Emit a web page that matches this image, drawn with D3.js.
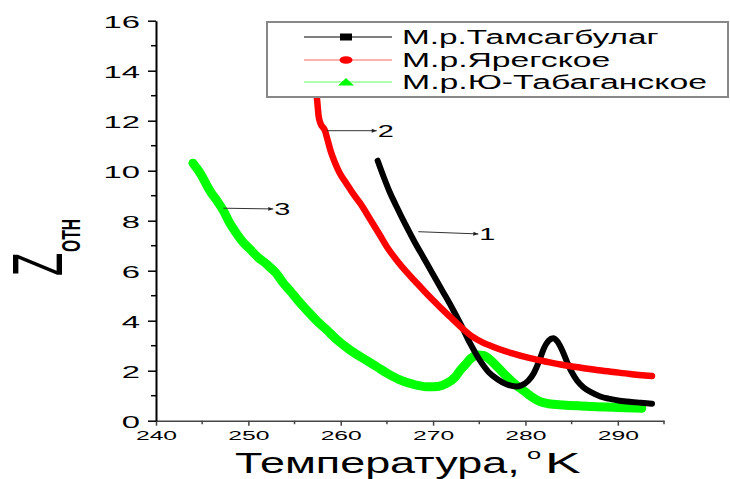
<!DOCTYPE html>
<html><head><meta charset="utf-8">
<script src="https://cdn.jsdelivr.net/npm/d3@7"></script>
<style>body{margin:0;background:#fff}svg{display:block}text{font-family:Arial,"Liberation Sans",sans-serif;fill:#000}</style>
</head><body><svg id="c" width="730" height="479"></svg>
<script>
// ---- data ----
const seriesNames = ["М.р.Тамсагбулаг", "М.р.Ярегское", "М.р.Ю-Табаганское"];
const seriesColors = ["#000000", "#ff0000", "#00ff00"];

const tamsagT = [264.0,264.6,265.3,266.0,267.0,268.0,269.0,270.0,271.0,272.0,273.0,274.0,275.0,276.0,277.0,278.0,279.0,279.6,280.3,280.9,281.5,282.0,282.5,283.0,283.5,284.0,284.5,285.0,285.6,286.3,287.2,288.1,289.0,290.2,291.5,292.5,293.7];
const tamsagZ = [10.4,9.8,9.15,8.6,7.85,7.15,6.5,5.85,5.2,4.55,3.85,3.1,2.45,1.95,1.65,1.45,1.37,1.42,1.6,1.9,2.4,2.9,3.2,3.3,3.15,2.8,2.35,1.95,1.6,1.33,1.12,0.97,0.88,0.8,0.75,0.72,0.68];

const yaregT = [257.3,257.5,257.6,257.8,258.3,258.6,258.9,259.4,259.9,260.6,261.3,262.1,263.2,264.2,265.1,266.1,267.0,268.0,269.0,270.0,271.0,272.0,273.3,274.3,275.4,276.9,278.5,280.5,282.3,284.1,286.0,287.7,289.5,291.3,293.7];
const yaregZ = [13.4,12.6,12.2,11.9,11.6,11.2,10.8,10.3,9.9,9.5,9.1,8.7,8.05,7.45,6.9,6.4,6.0,5.6,5.2,4.82,4.45,4.1,3.65,3.35,3.12,2.9,2.7,2.5,2.36,2.23,2.12,2.03,1.95,1.87,1.79];

const tabagT = [244.0,244.3,244.7,245.1,245.6,246.1,246.6,247.3,248.0,248.7,249.4,250.2,251.0,252.0,253.0,253.8,254.5,255.4,256.3,257.4,258.5,259.7,261.0,262.4,263.9,265.1,266.4,267.9,269.3,270.5,271.5,272.4,272.9,273.5,274.1,274.9,275.5,276.2,277.1,278.0,278.9,279.8,280.7,281.6,282.5,284.1,286.0,287.7,290.0,292.6];
const tabagZ = [10.3,10.15,9.95,9.7,9.35,9.05,8.8,8.4,7.9,7.5,7.15,6.85,6.55,6.25,5.9,5.5,5.2,4.8,4.43,4.0,3.63,3.2,2.83,2.5,2.16,1.88,1.63,1.45,1.36,1.37,1.5,1.75,2.0,2.25,2.5,2.63,2.6,2.43,2.1,1.76,1.45,1.2,0.95,0.76,0.68,0.63,0.59,0.56,0.53,0.5];

const xMajorTicks = [240,250,260,270,280,290];
const xMinorTicks = [245,255,265,275,285,295];
const yMajorTicks = [0,2,4,6,8,10,12,14,16];
const yMinorTicks = [1,3,5,7,9,11,13,15];

const annLabels = ["1","2","3"];
const annFromT = [268.4,258.5,247.3];
const annFromZ = [7.56,11.6,8.5];
const annToT   = [274.9,263.9,252.7];
const annToZ   = [7.47,11.6,8.47];

const xTitle = "Температура,";
const xTitleSup = "o";
const xTitleUnit = "K";
const yTitle = "Z";
const yTitleSub = "ОТН";

// ---- chart ----
const svg = d3.select("#c");
const x = d3.scaleLinear().domain([240,295]).range([156,664]);
const y = d3.scaleLinear().domain([0,16]).range([420.7,20.7]);

const series = [
  {T: tamsagT, Z: tamsagZ, w: 6},
  {T: yaregT, Z: yaregZ, w: 6.5},
  {T: tabagT, Z: tabagZ, w: 9}
];

const line = d3.line().x(d=>x(d[0])).y(d=>y(d[1])).curve(d3.curveMonotoneX);

const order = [2,0,1];
order.forEach(i=>{
  const s = series[i];
  svg.append("path")
    .datum(s.T.map((t,k)=>[t,s.Z[k]]))
    .attr("d", line)
    .attr("fill","none")
    .attr("stroke", seriesColors[i])
    .attr("stroke-width", s.w)
    .attr("stroke-linejoin","round")
    .attr("stroke-linecap","round");
});

// axes
const xAxisG = svg.append("g").attr("transform",`translate(0,${y(0)})`)
  .call(d3.axisBottom(x).tickValues(xMajorTicks).tickSize(5).tickSizeOuter(0).tickFormat(d3.format("d")));
xAxisG.select(".domain").attr("stroke","#444").attr("stroke-width",1.5);
xAxisG.selectAll(".tick line").attr("stroke","#444").attr("stroke-width",1.5);
xAxisG.selectAll(".tick text").attr("y",19).attr("dy","0").attr("font-size",13)
  .attr("transform","scale(1.9,1)");
xAxisG.selectAll(".minor").data(xMinorTicks).enter().append("line")
  .attr("x1",d=>x(d)).attr("x2",d=>x(d)).attr("y1",0).attr("y2",3.5)
  .attr("stroke","#444").attr("stroke-width",1.5);

const yAxisG = svg.append("g").attr("transform",`translate(${x(240)},0)`)
  .call(d3.axisLeft(y).tickValues(yMajorTicks).tickSize(8).tickSizeOuter(0).tickFormat(d3.format("d")));
yAxisG.select(".domain").attr("stroke","#000").attr("stroke-width",2);
yAxisG.selectAll(".tick line").attr("stroke","#000").attr("stroke-width",1.5);
yAxisG.selectAll(".tick text").attr("x",-16/2.05).attr("dy","0.4em").attr("font-size",16)
  .attr("transform","scale(2.05,1)");
yAxisG.selectAll(".minor").data(yMinorTicks).enter().append("line")
  .attr("x1",-5).attr("x2",0).attr("y1",d=>y(d)).attr("y2",d=>y(d))
  .attr("stroke","#000").attr("stroke-width",1.5);

// axis titles
svg.append("text").attr("transform","translate(235,473) scale(1.55,1)")
  .attr("font-size",29).text(xTitle);
svg.append("text").attr("transform","translate(527,459) scale(1.7,1)")
  .attr("font-size",15).text(xTitleSup);
svg.append("text").attr("transform","translate(545,473) scale(1.85,1)")
  .attr("font-size",29).text(xTitleUnit);

const yt = svg.append("g").attr("transform","translate(62,276) scale(1.85,1) rotate(-90)");
yt.append("text").attr("x",0).attr("y",0).attr("font-size",38).text(yTitle);
yt.append("text").attr("x",24).attr("y",9.9).attr("font-size",14).attr("font-weight","bold")
  .attr("textLength",33).attr("lengthAdjust","spacingAndGlyphs").text(yTitleSub);

// annotations
const defs = svg.append("defs");
defs.append("marker").attr("id","ah").attr("viewBox","0 0 10 10").attr("refX",10).attr("refY",5)
  .attr("markerWidth",7).attr("markerHeight",5).attr("orient","auto").attr("markerUnits","userSpaceOnUse")
  .append("path").attr("d","M0,1 L10,5 L0,9 Z").attr("fill","#222");
annLabels.forEach((lab,i)=>{
  svg.append("line")
    .attr("x1",x(annFromT[i])).attr("y1",y(annFromZ[i]))
    .attr("x2",x(annToT[i])).attr("y2",y(annToZ[i]))
    .attr("stroke","#333").attr("stroke-width",1).attr("marker-end","url(#ah)");
  svg.append("text")
    .attr("transform",`translate(${x(annToT[i])+1},${y(annToZ[i])+6}) scale(1.7,1)`)
    .attr("font-size",17).text(lab);
});

// legend
const lg = svg.append("g");
lg.append("rect").attr("x",267).attr("y",22).attr("width",461).attr("height",75)
  .attr("fill","#fff").attr("stroke","#888").attr("stroke-width",2);
const rowY = [37,60,82];
const textLens = [256.7,208.3,305];
seriesNames.forEach((n,i)=>{
  lg.append("line").attr("x1",304).attr("x2",392).attr("y1",rowY[i]).attr("y2",rowY[i])
    .attr("stroke",seriesColors[i]).attr("stroke-width",1.2).attr("opacity",i===0?1:0.6);
  if(i===0){
    lg.append("rect").attr("x",340).attr("y",rowY[i]-3.5).attr("width",12).attr("height",7).attr("fill","#000");
  } else if(i===1){
    lg.append("ellipse").attr("cx",346).attr("cy",rowY[i]).attr("rx",6.5).attr("ry",3.8).attr("fill",seriesColors[i]);
  } else {
    lg.append("path").attr("d",`M${338},${rowY[i]+3.5} L${346},${rowY[i]-4} L${354},${rowY[i]+3.5} Z`).attr("fill",seriesColors[i]);
  }
  lg.append("text").attr("x",402).attr("y",rowY[i]+7).attr("font-size",20)
    .attr("textLength",textLens[i]).attr("lengthAdjust","spacingAndGlyphs").text(n);
});
</script></body></html>
